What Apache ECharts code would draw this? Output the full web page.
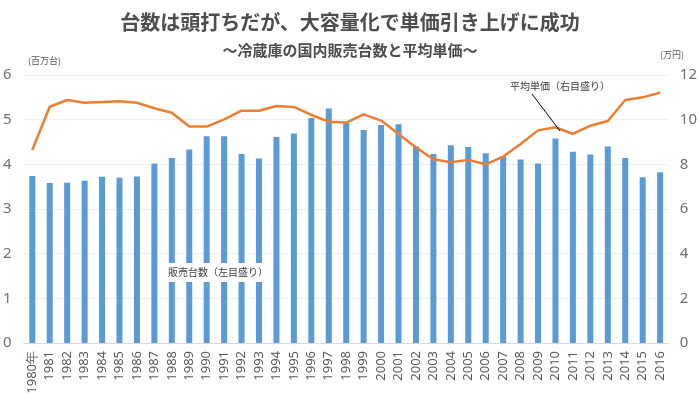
<!DOCTYPE html>
<html><head><meta charset="utf-8">
<script src="https://cdn.jsdelivr.net/npm/echarts@6/dist/echarts.min.js"></script>
<style>html,body{margin:0;padding:0;background:#fff}#c{width:700px;height:400px}</style>
</head><body><div id="c"></div>
<script>
const years = ['1980年','1981','1982','1983','1984','1985','1986','1987','1988','1989','1990','1991','1992','1993','1994','1995','1996','1997','1998','1999','2000','2001','2002','2003','2004','2005','2006','2007','2008','2009','2010','2011','2012','2013','2014','2015','2016'];
const unitsSold = [3.74,3.58,3.59,3.63,3.72,3.70,3.73,4.02,4.14,4.33,4.63,4.63,4.23,4.13,4.61,4.69,5.04,5.25,4.93,4.77,4.88,4.90,4.40,4.23,4.43,4.39,4.25,4.18,4.11,4.02,4.58,4.28,4.22,4.40,4.14,3.71,3.82];
const avgPrice = [8.64,10.58,10.88,10.76,10.79,10.82,10.76,10.51,10.31,9.69,9.69,10.01,10.40,10.40,10.61,10.57,10.21,9.91,9.87,10.24,9.96,9.36,8.75,8.23,8.09,8.20,8.00,8.35,8.91,9.52,9.66,9.36,9.73,9.94,10.88,11.00,11.21];
const leftTicks = {min:0,max:6,interval:1};
const rightTicks = {min:0,max:12,interval:2};

const chart = echarts.init(document.getElementById('c'));
const jp = '"Noto Sans CJK JP", sans-serif';
chart.setOption({
  animation:false,
  textStyle:{fontFamily:jp},
  title:[
    {text:'台数は頭打ちだが、大容量化で単価引き上げに成功',left:'center',top:7,textStyle:{fontSize:20,fontWeight:'bold',color:'#4d4d4d',fontFamily:jp}},
    {text:'～冷蔵庫の国内販売台数と平均単価～',left:'center',top:38,textStyle:{fontSize:15,fontWeight:'bold',color:'#4d4d4d',fontFamily:jp}},
    {text:'(百万台)',left:23,top:51,textStyle:{fontSize:9,fontWeight:'normal',color:'#595959',fontFamily:jp}},
    {text:'(万円)',right:11,top:45,textStyle:{fontSize:9,fontWeight:'normal',color:'#595959',fontFamily:jp}}
  ],
  grid:{left:23,right:31,top:75,bottom:57,containLabel:false},
  xAxis:{type:'category',data:years,boundaryGap:true,
    axisTick:{show:false},
    axisLine:{lineStyle:{color:'#d9d9d9'}},
    axisLabel:{rotate:90,fontSize:13,color:'#595959',margin:8,interval:0,fontFamily:'"Noto Sans", sans-serif'}},
  yAxis:[
    {type:'value',min:leftTicks.min,max:leftTicks.max,interval:leftTicks.interval,
     axisLabel:{fontSize:15,color:'#707070',margin:12,fontFamily:'"Noto Sans", sans-serif'},
     splitLine:{lineStyle:{color:'#eeeeee'}},axisLine:{show:false},axisTick:{show:false}},
    {type:'value',min:rightTicks.min,max:rightTicks.max,interval:rightTicks.interval,
     axisLabel:{fontSize:15,color:'#707070',margin:11,fontFamily:'"Noto Sans", sans-serif'},
     splitLine:{show:false},axisLine:{show:false},axisTick:{show:false}}
  ],
  series:[
    {name:'販売台数',type:'bar',data:unitsSold,yAxisIndex:0,barWidth:6,itemStyle:{color:'#5b9bd5'},z:2},
    {name:'平均単価',type:'line',data:avgPrice,yAxisIndex:1,symbol:'none',smooth:false,lineStyle:{color:'#ed7d31',width:2.5},z:3}
  ],
  graphic:[
    {type:'rect',shape:{x:166,y:263,width:98,height:19},style:{fill:'#ffffff'},z:100},
    {type:'text',x:168,y:272,style:{text:'販売台数（左目盛り）',font:'10px "Noto Sans CJK JP"',fill:'#404040',verticalAlign:'middle'},z:101},
    {type:'text',x:510,y:86,style:{text:'平均単価（右目盛り）',font:'10px "Noto Sans CJK JP"',fill:'#404040',verticalAlign:'middle'},z:101},
    {type:'line',shape:{x1:532,y1:94,x2:560,y2:131},style:{stroke:'#000',lineWidth:1},z:101}
  ]
});
</script></body></html>
